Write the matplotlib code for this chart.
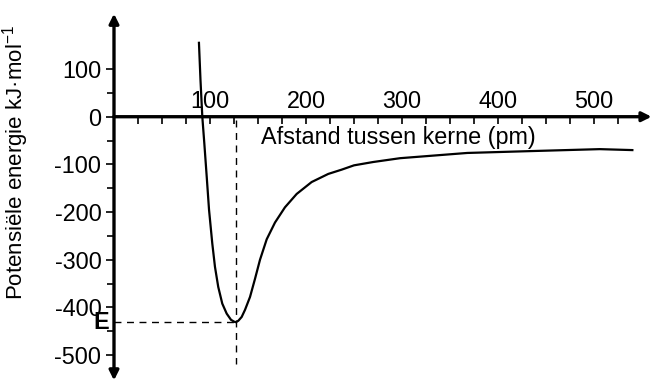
import numpy as np
import matplotlib
matplotlib.use("Agg")
import matplotlib.pyplot as plt
from matplotlib.ticker import FixedLocator

plt.rcParams['font.family'] = ['Liberation Sans', 'DejaVu Sans']
plt.rcParams['mathtext.fontset'] = 'custom'
plt.rcParams['mathtext.rm'] = 'Liberation Sans'
plt.rcParams['mathtext.it'] = 'Liberation Sans'
plt.rcParams['axes.unicode_minus'] = False

# distance between nuclei (pm) and potential energy (kJ/mol)
r_pm = [88.5, 90.1, 92.0, 94.1, 96.6, 99.0, 102.4, 105.2, 108.6, 112.8, 117.4, 121.9,
        125.3, 127.0, 129.5, 133.0, 136.5, 141.7, 146.9, 152.1, 159.1, 167.7, 178.1,
        190.3, 205.9, 223.2, 237.2, 250, 270, 298, 368, 436, 506, 540]
energy = [155, 77, 0, -56, -126, -195, -266, -315, -357, -392, -413, -426,
          -430, -431, -428, -420, -405, -378, -340, -300, -257, -222, -190,
          -162, -137, -120, -111, -102, -95, -87, -76, -72, -68, -70]

r_min = 127
E_min = -431

x_major = [100, 200, 300, 400, 500]
x_minor = [25 * k for k in range(1, 22)]
y_major = [100, 0, -100, -200, -300, -400, -500]
y_minor = [50, -50, -150, -250, -350, -450]

fig = plt.figure(figsize=(6.53, 3.83), dpi=100)
ax = fig.add_axes([0, 0, 1, 1])
ax.set_xlim(-118.75, 561.5)
ax.set_ylim(-558.5, 244.8)
ax.patch.set_alpha(0)

# axes through the origin, drawn as arrows
ax.spines['left'].set_position(('data', 0))
ax.spines['top'].set_position(('data', 0))
for side in ['left', 'right', 'top', 'bottom']:
    ax.spines[side].set_visible(False)

arrow = dict(arrowstyle='-|>', color='black', lw=2.4, mutation_scale=14,
             shrinkA=0, shrinkB=0)
ax.annotate('', xy=(0, 216), xytext=(0, 0), arrowprops=arrow)
ax.annotate('', xy=(0, -553), xytext=(0, 0), arrowprops=arrow)
ax.annotate('', xy=(560, 0), xytext=(0, 0), arrowprops=arrow)

ax.xaxis.set_ticks_position('top')
ax.xaxis.set_major_locator(FixedLocator(x_major))
ax.xaxis.set_minor_locator(FixedLocator(x_minor))
ax.set_xticklabels([str(v) for v in x_major])
ax.tick_params(axis='x', which='both', direction='in', length=5, width=1.2,
               labelsize=16.8, pad=3)

ax.yaxis.set_ticks_position('left')
ax.yaxis.set_major_locator(FixedLocator(y_major))
ax.yaxis.set_minor_locator(FixedLocator(y_minor))
ax.set_yticklabels([str(v) for v in y_major])
ax.tick_params(axis='y', which='major', direction='out', length=6, width=1.2,
               labelsize=16.8, pad=3)
ax.tick_params(axis='y', which='minor', direction='out', length=5, width=1.2)

# curve
ax.plot(r_pm, energy, color='black', lw=1.6, solid_joinstyle='round')

# dashed guides to the minimum
ax.plot([r_min, r_min], [-6, -518], color='black', lw=1.0, dashes=(5, 4))
ax.plot([0, r_min], [E_min, E_min], color='black', lw=1.0, dashes=(5, 4))
ax.text(-5, E_min, 'E', ha='right', va='center', fontsize=16.8, fontweight='bold')

ax.text(296, -43, 'Afstand tussen kerne (pm)', ha='center', va='center', fontsize=16.8)
ax.text(-103, -95, 'Potensiële energie kJ·mol$^{-1}$', rotation=90,
        ha='center', va='center', fontsize=16)

fig.savefig('out.png', dpi=100)
